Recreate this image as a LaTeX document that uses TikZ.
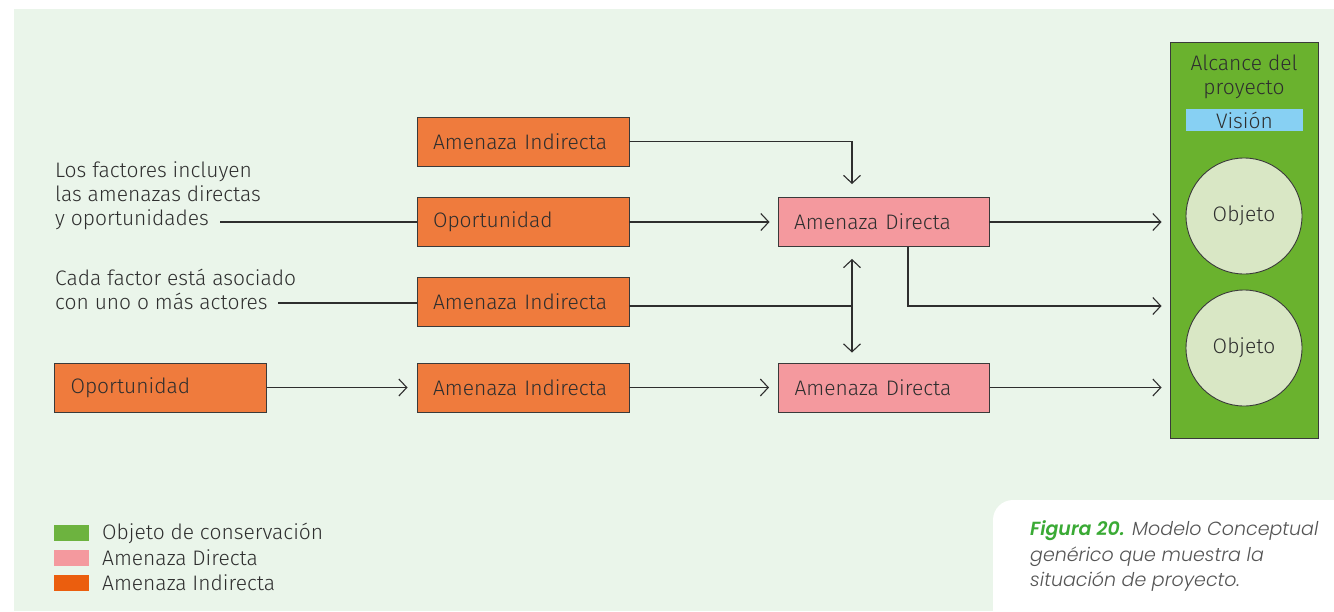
\documentclass[tikz,border=0pt]{standalone}
\usepackage{fontspec}
\setmainfont{Fira Sans}[UprightFont=* Light, ItalicFont=* Light Italic]
\newfontfamily\capfont{Poppins}[ItalicFont=* Light Italic, BoldItalicFont=* SemiBold Italic]
\usepackage{xcolor}
\usetikzlibrary{arrows.meta,positioning,calc}
\definecolor{bg}{HTML}{EAF5EA}
\definecolor{ink}{HTML}{2E2E2E}
\definecolor{boxline}{HTML}{3A3A3A}
\definecolor{indfill}{HTML}{EF7B3D}
\definecolor{dirfill}{HTML}{F4999E}
\definecolor{alcfill}{HTML}{6AB22E}
\definecolor{objfill}{HTML}{D9E7C5}
\definecolor{visfill}{HTML}{87D0F3}
\definecolor{legind}{HTML}{EB5E0E}
\definecolor{leggreen}{HTML}{6DB33F}
\definecolor{capgreen}{HTML}{3AAA35}
\definecolor{capgray}{HTML}{555555}

\begin{document}
\begin{tikzpicture}[x=1pt,y=-1pt,
		fs/.style={font=\fontsize{21}{24}\selectfont},
		box/.style={draw=boxline,line width=0.9pt,text width=180pt,inner xsep=16pt,inner ysep=0pt,minimum height=49pt,align=left,fs,text=ink},
		indirecta/.style={box,fill=indfill},
		directa/.style={box,fill=dirfill,text width=179pt},
		objeto/.style={circle,draw=boxline,line width=0.9pt,fill=objfill,minimum size=116pt,inner sep=0pt,fs,text=ink},
		legsq/.style={minimum width=35pt,minimum height=16pt,inner sep=0pt},
		lin/.style={draw=ink,line width=1.1pt},
		arr/.style={lin,-{Straight Barb[length=8pt,width=17pt]}}]
		\useasboundingbox (0,0) rectangle (1334,611);
		\fill[bg] (14,9) rectangle (1334,611);
		% caption card
		\fill[white] (993,611) -- (993,520) arc[start angle=180,end angle=270,radius=20] -- (1334,500) -- (1334,611) -- cycle;

		% scope of the project
		\node[draw=boxline,line width=0.9pt,fill=alcfill,minimum width=148pt,minimum height=396pt,inner sep=0pt] (alc) at (1244,240) {};
		\node[fs,text=ink,align=center,inner sep=0pt] (alct) at (1244,77) {Alcance del\\proyecto};
		\node[fill=visfill,minimum width=117pt,minimum height=22pt,inner sep=0pt,fs,text=ink] (vis) at (1244.5,120) {Visión};
		\node[objeto] (obj1) at (1244,216) {Objeto};
		\node[objeto] (obj2) at (1244,348) {Objeto};

		% factors
		\node[indirecta] (ind1) at (523,141.5) {Amenaza Indirecta};
		\node[indirecta] (opo1) at (523,222) {Oportunidad};
		\node[indirecta] (ind2) at (523,302) {Amenaza Indirecta};
		\node[indirecta] (ind3) at (523,387.5) {Amenaza Indirecta};
		\node[indirecta] (opo0) at (160.5,387.5) {Oportunidad};
		\node[directa] (dir1) at (883.5,222) {Amenaza Directa};
		\node[directa] (dir2) at (884,387.5) {Amenaza Directa};

		% notes
		\node[fs,text=ink,align=left,anchor=west,inner sep=0pt] (nota1) at (55,196) {Los factores incluyen\\las amenazas directas\\y oportunidades};
		\node[fs,text=ink,align=left,anchor=west,inner sep=0pt] (nota2) at (55,289) {Cada factor está asociado\\con uno o más actores};
		\coordinate (f1) at (220,222);
		\coordinate (f2) at (278,303);
		\draw[lin] (f1) -- (f1 -| opo1.west);
		\draw[lin] (f2) -- (f2 -| ind2.west);

		% connectors
		\coordinate (t) at (852,306);
		\coordinate (k) at (908,306);
		\draw[arr] (ind1.east) -| ($(dir1.north -| t)+(0,-13)$);
		\draw[arr] (opo1.east) -- ($(dir1.west)+(-8,0)$);
		\draw[lin] (ind2.east |- t) -- (t);
		\draw[lin,{Straight Barb[length=8pt,width=17pt]}-{Straight Barb[length=8pt,width=17pt]}] ($(dir1.south -| t)+(0,12)$) -- ($(dir2.north -| t)+(0,-10)$);
		\draw[arr] (opo0.east) -- ($(ind3.west)+(-9,0)$);
		\draw[arr] (ind3.east) -- ($(dir2.west)+(-9,0)$);
		\draw[arr] (dir1.east) -- ($(dir1.east -| alc.west)+(-8,0)$);
		\draw[arr] (dir1.south -| k) |- ($(k -| alc.west)+(-8,0)$);
		\draw[arr] (dir2.east) -- ($(dir2.east -| alc.west)+(-8,0)$);

		% legend
		\node[legsq,fill=leggreen] (lg1) at (71.5,533) {};
		\node[legsq,fill=dirfill] (lg2) at (71.5,558) {};
		\node[legsq,fill=legind] (lg3) at (71.5,583) {};
		\node[fs,text=ink,anchor=west,inner sep=0pt] (lt1) at (102,533) {Objeto de conservación};
		\node[fs,text=ink,anchor=west,inner sep=0pt] (lt2) at (102,558) {Amenaza Directa};
		\node[fs,text=ink,anchor=west,inner sep=0pt] (lt3) at (102,583) {Amenaza Indirecta};

		% caption
		\node[anchor=west,align=left,inner sep=0pt,text=capgray,font=\capfont\itshape\fontsize{19}{25.5}\selectfont] (cap) at (1030,556) {{\color{capgreen}\bfseries Figura 20.} Modelo Conceptual\\genérico que muestra la\\situación de proyecto.};
	\end{tikzpicture}
\end{document}
